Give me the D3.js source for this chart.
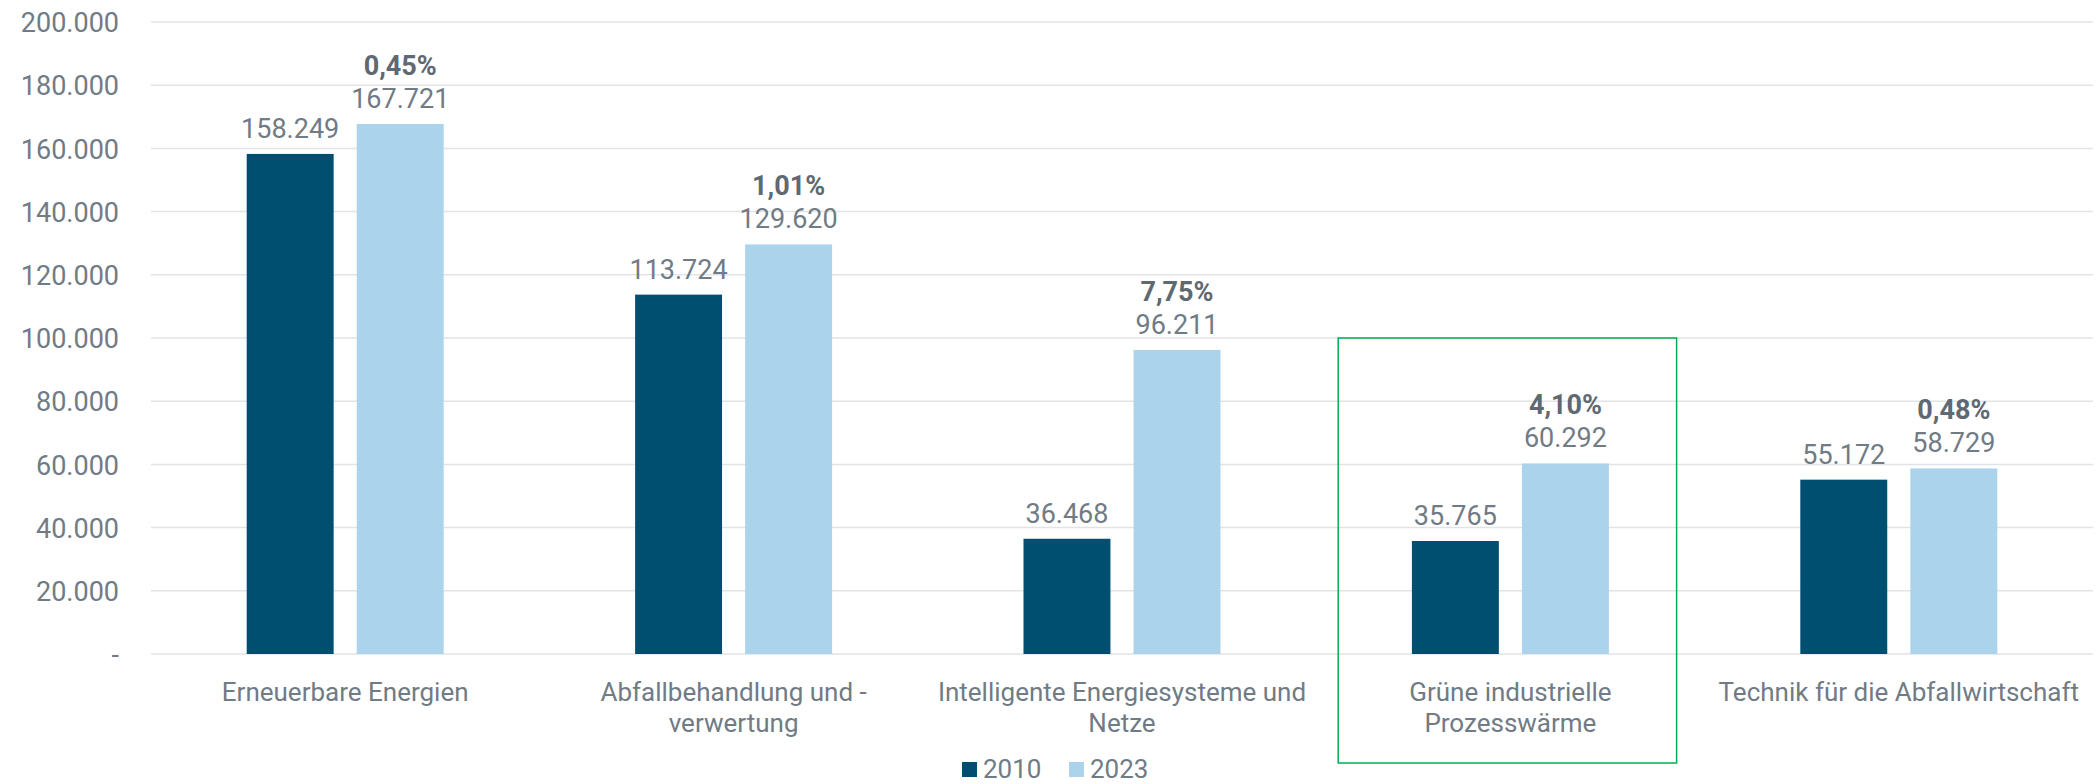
<!DOCTYPE html>
<html>
<head>
<meta charset="utf-8">
<script src="https://cdn.jsdelivr.net/npm/d3@7"></script>
<style>
  body { margin: 0; background: #fff; }
  text { font-family: Roboto, "Liberation Sans", sans-serif; }
</style>
</head>
<body>
<script>
// chart data
var categories = ["Erneuerbare Energien", "Abfallbehandlung und -\nverwertung", "Intelligente Energiesysteme und\nNetze", "Grüne industrielle\nProzesswärme", "Technik für die Abfallwirtschaft"];
var series = ["2010", "2023"];
var values2010 = [158249, 113724, 36468, 35765, 55172];
var values2023 = [167721, 129620, 96211, 60292, 58729];
var growth = [0.45, 1.01, 7.75, 4.10, 0.48];
var yTicks = [0, 20000, 40000, 60000, 80000, 100000, 120000, 140000, 160000, 180000, 200000];
var highlighted = "Grüne industrielle\nProzesswärme";

var W = 2100, H = 784;
var margin = { top: 22, right: 7, bottom: 130, left: 151 },
    width = W - margin.left - margin.right,
    height = 654 - margin.top;

var colors = { "2010": "#004F71", "2023": "#ABD3EB" };
var textGray = "#707B85";

var de = d3.formatLocale({ decimal: ",", thousands: ".", grouping: [3], currency: ["", " €"] });
var fmt = de.format(",.0f");
var fmtPct = de.format(",.2f");

var svg = d3.select("body").append("svg")
    .attr("width", W)
    .attr("height", H)
    .append("g")
    .attr("transform", "translate(" + margin.left + "," + margin.top + ")");

var x0 = d3.scaleBand()
    .domain(categories)
    .range([0, width])
    .padding(0);

// two bars + gap, centred in each band
var pairWidth = 197;
var x1 = d3.scaleBand()
    .domain(series)
    .range([(x0.bandwidth() - pairWidth) / 2, (x0.bandwidth() + pairWidth) / 2])
    .paddingInner(0.21)
    .paddingOuter(0);

var y = d3.scaleLinear()
    .domain([0, 200000])
    .range([height, 0]);

// gridlines
svg.append("g")
    .attr("class", "grid")
    .selectAll("line")
    .data(yTicks)
    .enter()
    .append("line")
    .attr("x1", 0)
    .attr("x2", width)
    .attr("y1", d => y(d))
    .attr("y2", d => y(d))
    .style("stroke", "#E1E3E5")
    .style("stroke-width", 1.5);

// y axis labels
var yAxis = d3.axisLeft(y)
    .tickValues(yTicks)
    .tickSize(0)
    .tickPadding(32)
    .tickFormat(d => d === 0 ? "-" : fmt(d));

svg.append("g")
    .attr("class", "y axis")
    .call(yAxis)
    .call(g => g.select(".domain").remove())
    .selectAll("text")
    .style("font-size", "27px")
    .style("fill", textGray)
    .attr("dy", "0.36em");

// highlight box around one category
var hx = x0(highlighted);
svg.append("rect")
    .attr("x", hx + 22)
    .attr("y", y(100000))
    .attr("width", x0.bandwidth() - 50)
    .attr("height", 763 - margin.top - y(100000))
    .style("fill", "none")
    .style("stroke", "#00B050")
    .style("stroke-width", 1.5);

var rows = categories.map((c, i) => ({
    category: c,
    bars: [
        { key: "2010", value: values2010[i] },
        { key: "2023", value: values2023[i] }
    ],
    growth: growth[i]
}));

var groups = svg.selectAll(".group")
    .data(rows)
    .enter()
    .append("g")
    .attr("class", "group")
    .attr("transform", d => "translate(" + x0(d.category) + ",0)");

groups.selectAll("rect")
    .data(d => d.bars)
    .enter()
    .append("rect")
    .attr("x", d => x1(d.key))
    .attr("width", x1.bandwidth())
    .attr("y", d => y(d.value))
    .attr("height", d => height - y(d.value))
    .style("fill", d => colors[d.key]);

// value labels
groups.selectAll(".val")
    .data(d => d.bars)
    .enter()
    .append("text")
    .attr("class", "val")
    .attr("x", d => x1(d.key) + x1.bandwidth() / 2)
    .attr("y", d => y(d.value) - 16)
    .attr("text-anchor", "middle")
    .style("font-size", "27px")
    .style("fill", textGray)
    .text(d => fmt(d.value));

// growth labels above the 2023 bar
groups.append("text")
    .attr("class", "pct")
    .attr("x", x1("2023") + x1.bandwidth() / 2)
    .attr("y", d => y(d.bars[1].value) - 49)
    .attr("text-anchor", "middle")
    .style("font-size", "27px")
    .style("font-weight", "bold")
    .style("fill", "#5E6972")
    .text(d => fmtPct(d.growth) + "%");

// category labels
var catLabels = svg.append("g")
    .attr("class", "x axis")
    .selectAll("text")
    .data(categories)
    .enter()
    .append("text")
    .attr("x", d => x0(d) + x0.bandwidth() / 2)
    .attr("y", height + 47)
    .attr("text-anchor", "middle")
    .style("font-size", "26px")
    .style("fill", textGray);

catLabels.selectAll("tspan")
    .data(d => d.split("\n"))
    .enter()
    .append("tspan")
    .attr("x", function () { return d3.select(this.parentNode).attr("x"); })
    .attr("dy", (d, i) => i === 0 ? 0 : 31)
    .text(d => d);

// legend
var legend = svg.append("g")
    .attr("class", "legend")
    .attr("transform", "translate(" + (962 - margin.left) + "," + (762 - margin.top) + ")");

var item = legend.selectAll(".item")
    .data(series)
    .enter()
    .append("g")
    .attr("class", "item")
    .attr("transform", (d, i) => "translate(" + (i * 107) + ",0)");

item.append("rect")
    .attr("width", 15)
    .attr("height", 15)
    .style("fill", d => colors[d]);

item.append("text")
    .attr("x", 21)
    .attr("y", 15.5)
    .style("font-size", "26px")
    .style("fill", textGray)
    .text(d => d);
</script>
</body>
</html>
